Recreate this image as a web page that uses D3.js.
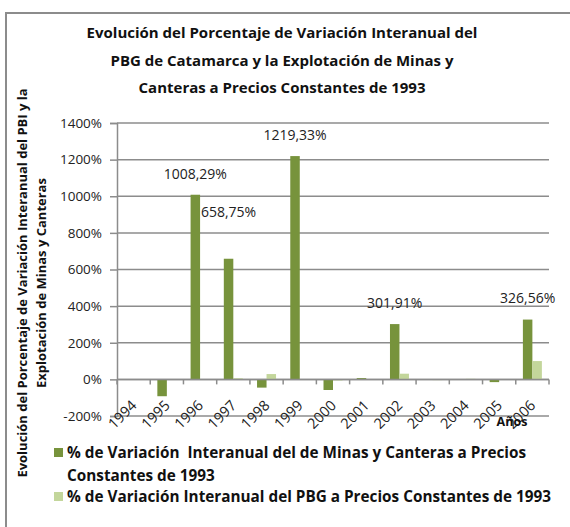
<!DOCTYPE html>
<html>
<head>
<meta charset="utf-8">
<script src="https://cdn.jsdelivr.net/npm/d3@7"></script>
<style>
  body { margin: 0; background: #fff; }
  svg { display: block; font-family: "Open Sans", sans-serif; }
  text { white-space: pre; }
</style>
</head>
<body>
<svg id="chart" width="570" height="527"></svg>
<script>
// years on the category axis
var years = ["1994", "1995", "1996", "1997", "1998", "1999", "2000",
             "2001", "2002", "2003", "2004", "2005", "2006"];
// % variación interanual Minas y Canteras
var minas = [0, -92, 1008.29, 658.75, -45, 1219.33, -58, 7, 301.91, -3, 0, -15, 326.56];
// % variación interanual PBG
var pbg = [0, 0, 2, 6, 29, 1, -6, 1, 31, -4, 3, -3, 100];
var yTicks = [-200, 0, 200, 400, 600, 800, 1000, 1200, 1400];
var seriesNames = [
  ["% de Variación  Interanual del de Minas y Canteras a Precios", "Constantes de 1993"],
  ["% de Variación Interanual del PBG a Precios Constantes de 1993"]
];
var titleLines = ["Evolución del Porcentaje de Variación Interanual del",
                  "PBG de Catamarca y la Explotación de Minas y",
                  "Canteras a Precios Constantes de 1993"];
var yTitleLines = ["Evolución del Porcentaje de Variación Interanual del PBI y la",
                   "Explotación de Minas y Canteras"];

var dark = "#77933C", light = "#C3D69B", gridCol = "#8c8c8c";

var svg = d3.select("#chart");

// outer frame (runs off the right/bottom edge like the original)
svg.append("rect")
  .attr("x", 6).attr("y", 13).attr("width", 620).attr("height", 620)
  .attr("fill", "none").attr("stroke", gridCol).attr("stroke-width", 2);

var pLeft = 117, pRight = 549, pTop = 123, pBottom = 416;

var x = d3.scaleBand().domain(years).range([pLeft, pRight]).paddingInner(0).paddingOuter(0);
var y = d3.scaleLinear().domain([-200, 1400]).range([pBottom, pTop]);

// two bars per category with 150% gap
var barW = x.bandwidth() / 3.5;
var gapOff = barW * 0.75;

// gridlines
svg.append("g").selectAll("line").data(yTicks).join("line")
  .attr("x1", pLeft).attr("x2", pRight)
  .attr("y1", function (d) { return y(d); })
  .attr("y2", function (d) { return y(d); })
  .attr("stroke", gridCol).attr("stroke-width", 1.5);

// y axis
var yAxis = svg.append("g")
  .attr("transform", "translate(" + pLeft + ",0)")
  .call(d3.axisLeft(y).tickValues(yTicks).tickSize(7).tickPadding(8)
    .tickFormat(function (d) { return d + "%"; }));
yAxis.select(".domain").attr("stroke", gridCol).attr("stroke-width", 1.5);
yAxis.selectAll(".tick line").attr("stroke", gridCol).attr("stroke-width", 1.5);
yAxis.selectAll(".tick text").attr("font-size", "13.5px").attr("fill", "#222")
  .attr("font-family", "Open Sans");

// bars
var bars = svg.append("g");
bars.selectAll("rect.minas").data(minas).join("rect")
  .attr("class", "minas")
  .attr("x", function (d, i) { return x(years[i]) + gapOff; })
  .attr("width", barW)
  .attr("y", function (d) { return y(Math.max(0, d)); })
  .attr("height", function (d) { return Math.abs(y(d) - y(0)); })
  .attr("fill", dark);
bars.selectAll("rect.pbg").data(pbg).join("rect")
  .attr("class", "pbg")
  .attr("x", function (d, i) { return x(years[i]) + gapOff + barW; })
  .attr("width", barW)
  .attr("y", function (d) { return y(Math.max(0, d)); })
  .attr("height", function (d) { return Math.abs(y(d) - y(0)); })
  .attr("fill", light);

// category axis at 0%
var xAxisG = svg.append("g");
xAxisG.append("line")
  .attr("x1", pLeft).attr("x2", pRight).attr("y1", y(0)).attr("y2", y(0))
  .attr("stroke", gridCol).attr("stroke-width", 1.5);
xAxisG.selectAll("line.tk").data(years.concat(["end"])).join("line")
  .attr("class", "tk")
  .attr("x1", function (d) { return d === "end" ? pRight : x(d); })
  .attr("x2", function (d) { return d === "end" ? pRight : x(d); })
  .attr("y1", y(0)).attr("y2", y(0) + 5)
  .attr("stroke", gridCol).attr("stroke-width", 1.5);

var xAxis = svg.append("g")
  .attr("transform", "translate(0," + y(0) + ")")
  .call(d3.axisBottom(x).tickSize(0));
xAxis.select(".domain").remove();
xAxis.selectAll(".tick text")
  .attr("y", 0).attr("dy", 0).attr("x", 0)
  .attr("text-anchor", "end")
  .attr("transform", "translate(4,27) rotate(-45)")
  .attr("font-size", "14.5px").attr("fill", "#222")
  .attr("font-family", "Open Sans");

// data labels for the big minas values
var lift = { "1997": 47 };
var labelled = minas.map(function (d, i) { return { v: d, yr: years[i] }; })
  .filter(function (d) { return d.v > 300; });
svg.append("g").selectAll("text").data(labelled).join("text")
  .attr("x", function (d) { return x(d.yr) + gapOff + barW / 2; })
  .attr("y", function (d) { return y(d.v) - (lift[d.yr] || 21); })
  .attr("dy", "0.35em")
  .attr("text-anchor", "middle")
  .attr("font-size", "14px").attr("fill", "#222")
  .text(function (d) { return d3.format(".2f")(d.v).replace(".", ",") + "%"; });

// title
svg.append("g").selectAll("text").data(titleLines).join("text")
  .attr("x", 282)
  .attr("y", function (d, i) { return 33 + i * 27.5; })
  .attr("dy", "0.35em")
  .attr("text-anchor", "middle")
  .attr("font-weight", "bold").attr("font-size", "15px").attr("fill", "#111")
  .text(function (d) { return d; });

// y axis title
svg.append("g").selectAll("text").data(yTitleLines).join("text")
  .attr("transform", function (d, i) {
    return "translate(" + (22 + i * 19) + ",283) rotate(-90)";
  })
  .attr("dy", "0.35em")
  .attr("text-anchor", "middle")
  .attr("font-weight", "bold").attr("font-size", "13px").attr("fill", "#111")
  .text(function (d) { return d; });

// x axis title
svg.append("text")
  .attr("x", 512).attr("y", 422).attr("dy", "0.35em")
  .attr("text-anchor", "middle")
  .attr("font-weight", "bold").attr("font-size", "12.5px").attr("fill", "#111")
  .text("Años");

// legend
var legendRows = [453, 497];
var lg = svg.append("g");
seriesNames.forEach(function (lines, i) {
  lg.append("rect")
    .attr("x", 54).attr("y", legendRows[i] - 5)
    .attr("width", 9).attr("height", 9)
    .attr("fill", i === 0 ? dark : light);
  lines.forEach(function (t, j) {
    lg.append("text")
      .attr("x", 67).attr("y", legendRows[i] + j * 23)
      .attr("dy", "0.35em")
      .attr("font-weight", "bold").attr("font-size", "15.3px").attr("fill", "#111")
      .text(t);
  });
});
</script>
</body>
</html>
